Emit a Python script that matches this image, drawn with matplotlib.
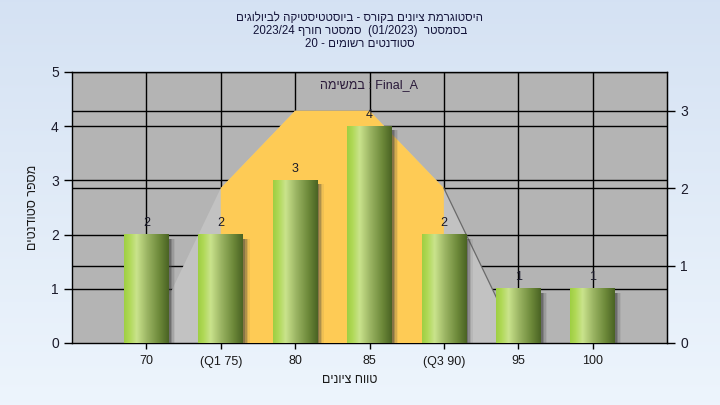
import numpy as np
import matplotlib
matplotlib.use("Agg")
import matplotlib.pyplot as plt
from matplotlib.colors import LinearSegmentedColormap
from matplotlib.patches import Rectangle, Polygon

plt.rcParams['font.family'] = ['Liberation Sans', 'DejaVu Sans']

# ---- data ----
categories = ["70", "(Q1 75)", "80", "85", "(Q3 90)", "95", "100"]
counts = [2, 2, 3, 4, 2, 1, 1]
curve = [0, 2, 3, 3, 2, 0, 0]          # secondary-axis distribution area
q1_idx, q3_idx = 1, 4
left_max, right_max = 5, 3.5

def rev(s):
    return s[::-1]

title1 = rev("היסטוגרמת ציונים בקורס - ביוסטטיסטיקה לביולוגים")
title2 = "2023/24 " + rev("סמסטר חורף") + "  (01/2023)  " + rev("בסמסטר")
title3 = "20 - " + rev("סטודנטים רשומים")
legend_txt = rev("במשימה") + " : Final_A"
ylabel = rev("מספר סטודנטים")
xlabel = rev("טווח ציונים")

W, H = 720, 405
fig = plt.figure(figsize=(7.2, 4.05), dpi=100)

# background gradient
bg = fig.add_axes([0, 0, 1, 1], zorder=-10)
grad = np.linspace(0, 1, 256)[:, None]
top = np.array([0.835, 0.886, 0.953]); bot = np.array([0.93, 0.96, 0.99])
img = top[None, None, :] * (1 - grad[:, :, None]) + bot[None, None, :] * grad[:, :, None]
bg.imshow(img, aspect='auto', extent=[0, 1, 0, 1])
bg.axis('off')

x0, x1, y0, y1 = 72, 667, 343, 72
ax = fig.add_axes([x0 / W, 1 - y0 / H, (x1 - x0) / W, (y0 - y1) / H])
ax.set_facecolor('#b4b4b4')
ax.set_xlim(-1, 7)
ax.set_ylim(0, left_max)
scale = left_max / right_max

xs = np.arange(len(categories))

# gridlines (behind area)
for v in range(1, 6):
    ax.axhline(v, color='black', lw=1, zorder=1)
for v in range(1, 4):
    ax.axhline(v * scale, color='black', lw=1, zorder=1)
for xv in xs:
    ax.axvline(xv, color='black', lw=1, zorder=1)

# distribution area
cy = np.array(curve) * scale
gray_pts = [(xs[0], 0)] + list(zip(xs[:6], cy[:6])) + [(xs[5], 0)]
ax.add_patch(Polygon(gray_pts, closed=True, facecolor='#c2c2c2', edgecolor='none', zorder=2))
orange_pts = [(xs[q1_idx], 0)] + list(zip(xs[q1_idx:q3_idx + 1], cy[q1_idx:q3_idx + 1])) + [(xs[q3_idx], 0)]
ax.add_patch(Polygon(orange_pts, closed=True, facecolor='#fecb55', edgecolor='none', zorder=3))
ax.plot([xs[4], xs[5]], [cy[4], cy[5]], color='#6a6a6a', lw=0.9, zorder=3.5)

# bars with cylinder gradient
cmap = LinearSegmentedColormap.from_list('cyl', [
    (0.0, (0.62, 0.81, 0.26)),
    (0.12, (0.69, 0.85, 0.34)),
    (0.28, (0.79, 0.89, 0.55)),
    (0.5, (0.62, 0.72, 0.40)),
    (0.8, (0.42, 0.53, 0.22)),
    (1.0, (0.29, 0.39, 0.14)),
])
bw = 0.6
px = 8 / (x1 - x0)  # data units per px in x
pyu = left_max / (y0 - y1)
gimg = np.linspace(0, 1, 128)[None, :]
for xv, c in zip(xs, counts):
    # shadow
    for k, a in enumerate([0.35, 0.25, 0.15, 0.08]):
        ax.add_patch(Rectangle((xv + bw / 2, 0), (2 + k * 1.5) * px, c - 4 * pyu,
                               facecolor='#404040', alpha=a, edgecolor='none', zorder=4))
    ax.imshow(gimg, cmap=cmap, aspect='auto', extent=[xv - bw / 2, xv + bw / 2, 0, c],
              zorder=5, interpolation='bilinear')
    ax.annotate(str(c), (xv, c), xytext=(0, 4), textcoords='offset points',
                ha='center', va='bottom', fontsize=9, color='#1a1a2a', zorder=6)
ax.set_xlim(-1, 7)
ax.set_ylim(0, left_max)

ax.set_xticks(xs)
ax.set_xticklabels(categories, fontsize=9, color='#1a1a1a')
ax.set_yticks(range(0, 6))
ax.tick_params(axis='y', labelsize=10, length=6, width=1, colors='black', labelcolor='#1a1a2a')
ax.tick_params(axis='x', length=4, width=1, pad=5)
for s in ax.spines.values():
    s.set_color('black'); s.set_linewidth(1)

sec = ax.secondary_yaxis('right', functions=(lambda y: y / scale, lambda y: y * scale))
sec.set_yticks(range(0, 4))
sec.tick_params(labelsize=10, length=6, width=1, labelcolor='#1a1a2a')

ax.text(0.5, (85 - y1) / (y1 - y0) + 1, legend_txt, transform=ax.transAxes, ha='center', va='center',
        fontsize=9, color='#2a1a3a', zorder=7)

fig.text(33 / W, 1 - 207 / H, ylabel, rotation=90, ha='center', va='center', fontsize=9, color='#1a1a1a')
fig.text(350 / W, 1 - 380 / H, xlabel, ha='center', va='center', fontsize=9, color='#1a1a1a')

for txt, yy in [(title1, 18), (title2, 31), (title3, 44)]:
    fig.text(360 / W, 1 - yy / H, txt, ha='center', va='center', fontsize=8.3, color='#14143a')

fig.savefig('out.png', dpi=100)
